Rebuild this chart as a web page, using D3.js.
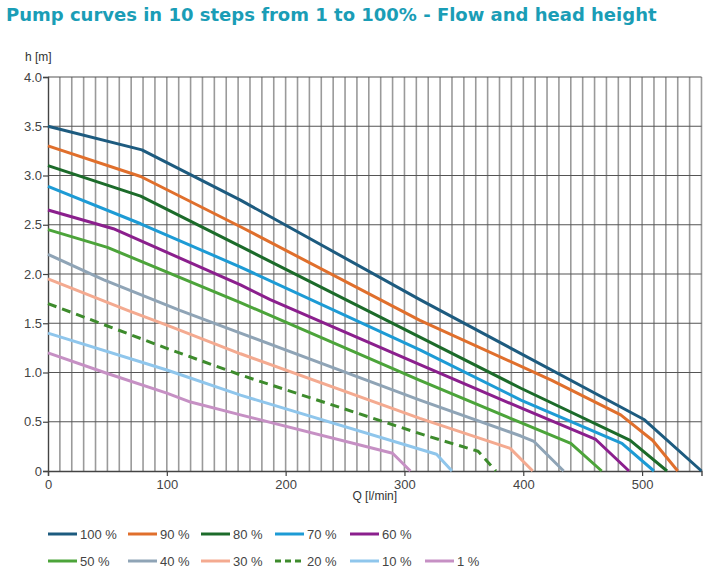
<!DOCTYPE html>
<html>
<head>
<meta charset="utf-8">
<script src="https://cdn.jsdelivr.net/npm/d3@7"></script>
<style>
  html, body { margin: 0; padding: 0; background: #fff; }
  svg { display: block; }
</style>
</head>
<body>
<svg id="chart" width="716" height="580"></svg>
<script>
// ---- data ----
const title = "Pump curves in 10 steps from 1 to 100% - Flow and head height";
const xLabel = "Q [l/min]";
const yLabel = "h [m]";
const xTicks = [0, 100, 200, 300, 400, 500];
const yTicks = [0, 0.5, 1.0, 1.5, 2.0, 2.5, 3.0, 3.5, 4.0];
const yTickLabels = ["0", "0.5", "1.0", "1.5", "2.0", "2.5", "3.0", "3.5", "4.0"];
const seriesNames = ["100 %", "90 %", "80 %", "70 %", "60 %", "50 %", "40 %", "30 %", "20 %", "10 %", "1 %"];
const s100 = [[0,3.5],[79,3.26],[162,2.75],[313,1.74],[482,0.65],[502,0.52],[550,0]];
const s90  = [[0,3.3],[78,2.99],[162,2.48],[313,1.53],[424,0.92],[482,0.57],[509,0.31],[530,0]];
const s80  = [[0,3.1],[78,2.79],[162,2.28],[313,1.36],[398,0.84],[490,0.31],[521,0]];
const s70  = [[0,2.89],[78,2.51],[162,2.07],[313,1.23],[398,0.72],[483,0.28],[510,0]];
const s60  = [[0,2.65],[55,2.46],[162,1.89],[187,1.74],[313,1.08],[398,0.64],[461,0.32],[489,0]];
const s50  = [[0,2.45],[50,2.27],[162,1.71],[313,0.92],[398,0.49],[440,0.28],[466,0]];
const s40  = [[0,2.2],[47,1.94],[111,1.63],[162,1.40],[313,0.72],[398,0.355],[409,0.30],[434,0]];
const s30  = [[0,1.95],[67,1.63],[100,1.48],[162,1.19],[313,0.535],[389,0.23],[408,0]];
const s20  = [[0,1.70],[100,1.245],[162,0.975],[318,0.36],[362,0.2],[377,0]];
const s10  = [[0,1.40],[100,1.025],[162,0.77],[327,0.17],[340,0]];
const s1   = [[0,1.2],[50,0.99],[100,0.79],[120,0.70],[162,0.57],[290,0.18],[305,0]];
const seriesData = [s100, s90, s80, s70, s60, s50, s40, s30, s20, s10, s1];
const seriesColors = ["#1d5b7f", "#e06f2c", "#1c6b2a", "#1d9bd5", "#8b1f8d", "#4ca43a",
                      "#8fa4b6", "#f4aa90", "#3d8b2c", "#8fc6ec", "#c690c4"];
const seriesDashed = [false, false, false, false, false, false, false, false, true, false, false];

// ---- layout ----
const svg = d3.select("#chart");
const W = 716, H = 580;
const x = d3.scaleLinear().domain([0, 550]).range([48, 701.5]);
const y = d3.scaleLinear().domain([0, 4]).range([471, 77]);

svg.append("rect").attr("width", W).attr("height", H).attr("fill", "#fff");

// title
svg.append("text")
  .attr("x", 6).attr("y", 21)
  .attr("font-family", "DejaVu Sans, Verdana, sans-serif")
  .attr("font-weight", "bold")
  .attr("font-size", 18)
  .attr("fill", "#1a9db6")
  .text(title);

// vertical grid every 10
const g = svg.append("g");
g.selectAll("line.vg").data(d3.range(10, 551, 10)).join("line")
  .attr("class", "vg")
  .attr("x1", d => x(d)).attr("x2", d => x(d))
  .attr("y1", y(4)).attr("y2", y(0))
  .attr("stroke", "#9a9a9a").attr("stroke-width", 1.6);

// horizontal grid
g.selectAll("line.hg").data(yTicks.filter(d => d > 0)).join("line")
  .attr("class", "hg")
  .attr("x1", x(0)).attr("x2", x(550))
  .attr("y1", d => y(d)).attr("y2", d => y(d))
  .attr("stroke", "#555").attr("stroke-width", 1.2);

// axes
const xAxis = d3.axisBottom(x).tickValues(xTicks).tickSize(5).tickFormat(d3.format("d"));
const yAxis = d3.axisLeft(y).tickValues(yTicks).tickSize(5).tickFormat((d, i) => yTickLabels[i]);

const gx = svg.append("g").attr("transform", `translate(0,${y(0)})`).call(xAxis);
const gy = svg.append("g").attr("transform", `translate(${x(0)},0)`).call(yAxis);
[gx, gy].forEach(a => {
  a.select(".domain").attr("stroke", "#444").attr("stroke-width", 1.4);
  a.selectAll(".tick line").attr("stroke", "#444").attr("stroke-width", 1.2);
  a.selectAll(".tick text")
    .attr("font-family", "Liberation Sans, Arial, sans-serif")
    .attr("font-size", 13).attr("fill", "#444");
});
gy.selectAll(".tick text").attr("x", -6);
gx.selectAll(".tick text").attr("y", 9);

// axis labels
svg.append("text").attr("x", 25).attr("y", 61)
  .attr("font-family", "Liberation Sans, Arial, sans-serif")
  .attr("font-size", 12).attr("fill", "#333").text(yLabel);
svg.append("text").attr("x", x(275)).attr("y", 500)
  .attr("text-anchor", "middle")
  .attr("font-family", "Liberation Sans, Arial, sans-serif")
  .attr("font-size", 12).attr("fill", "#333").text(xLabel);

// series lines
const line = d3.line().x(d => x(d[0])).y(d => y(d[1])).curve(d3.curveLinear);
const lines = svg.append("g");
seriesData.forEach((data, i) => {
  lines.append("path")
    .attr("d", line(data))
    .attr("fill", "none")
    .attr("stroke", seriesColors[i])
    .attr("stroke-width", 3)
    .attr("stroke-linejoin", "round")
    .attr("stroke-dasharray", seriesDashed[i] ? "9,6" : null);
});

// legend
const legendCols = [48, 128, 201, 275, 350, 425];
const legendRows = [534, 561];
const legend = svg.append("g");
seriesNames.forEach((name, i) => {
  const row = i < 5 ? 0 : 1;
  const col = i < 5 ? i : i - 5;
  const lx = legendCols[col], ly = legendRows[row];
  legend.append("line")
    .attr("x1", lx).attr("x2", lx + 29)
    .attr("y1", ly).attr("y2", ly)
    .attr("stroke", seriesColors[i]).attr("stroke-width", 3)
    .attr("stroke-dasharray", seriesDashed[i] ? "6,4" : null);
  legend.append("text")
    .attr("x", lx + 32).attr("y", ly + 4.5)
    .attr("font-family", "Liberation Sans, Arial, sans-serif")
    .attr("font-size", 13).attr("fill", "#444")
    .text(name);
});
</script>
</body>
</html>
